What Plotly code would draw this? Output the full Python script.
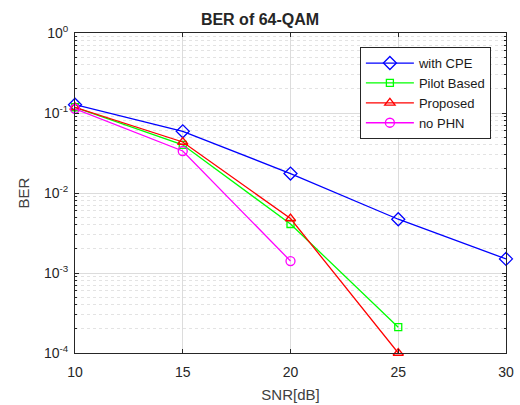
import plotly.graph_objects as go

snr = [10, 15, 20, 25, 30]
ber_cpe = [0.127, 0.059, 0.0175, 0.0047, 0.0015]
snr_pilot = [10, 15, 20, 25]
ber_pilot = [0.118, 0.040, 0.0041, 2.1e-4]
snr_prop = [10, 15, 20, 25]
ber_prop = [0.118, 0.0434, 0.0048, 1.0e-4]
snr_nophn = [10, 15, 20]
ber_nophn = [0.113, 0.0335, 0.00141]

ytick_vals = [1e-4, 1e-3, 1e-2, 1e-1, 1]
ytick_text = ["10<sup>-4</sup>", "10<sup>-3</sup>", "10<sup>-2</sup>", "10<sup>-1</sup>", "10<sup>0</sup>"]
xtick_vals = [10, 15, 20, 25, 30]

fig = go.Figure()
series = [
    ("with CPE", snr, ber_cpe, "#0000ff", "diamond-open", 10),
    ("Pilot Based", snr_pilot, ber_pilot, "#00ff00", "square-open", 7),
    ("Proposed", snr_prop, ber_prop, "#ff0000", "triangle-up-open", 9),
    ("no PHN", snr_nophn, ber_nophn, "#ff00ff", "circle-open", 9),
]
for name, x, y, c, sym, sz in series:
    fig.add_trace(go.Scatter(
        x=x, y=y, name=name, mode="lines+markers",
        line=dict(color=c, width=1.3),
        marker=dict(symbol=sym, size=sz, color=c, line=dict(width=1.3, color=c)),
        cliponaxis=False,
    ))

fig.update_layout(
    width=520, height=405,
    margin=dict(l=75, r=14, t=33, b=52, autoexpand=False),
    paper_bgcolor="white", plot_bgcolor="white",
    font=dict(family="Liberation Sans, Arial, sans-serif", size=14, color="#262626"),
    title=dict(text="<b>BER of 64-QAM</b>", x=0.5, xanchor="center", y=0.952, yanchor="middle",
               font=dict(size=16, color="#262626")),
    showlegend=True,
    legend=dict(x=0.661, y=0.956, xanchor="left", yanchor="top",
                bgcolor="white", bordercolor="#262626", borderwidth=1,
                font=dict(size=13, color="#1a1a1a"), tracegroupgap=0, itemwidth=48),
)
fig.update_xaxes(
    range=[10, 30], tickvals=xtick_vals, automargin=False,
    showgrid=True, gridcolor="#dcdcdc", gridwidth=1,
    showline=True, linecolor="#262626", linewidth=1, mirror="ticks",
    ticks="inside", ticklen=4, tickcolor="#262626", ticklabelstandoff=6,
    zeroline=False, tickfont=dict(size=14),
    title=dict(text="SNR[dB]", font=dict(size=15, color="#404040"), standoff=10),
)
fig.update_yaxes(
    type="log", range=[-4, 0], tickvals=ytick_vals, ticktext=ytick_text, automargin=False,
    showgrid=True, gridcolor="#dcdcdc", gridwidth=1,
    showline=True, linecolor="#262626", linewidth=1, mirror="ticks",
    ticks="inside", ticklen=4, tickcolor="#262626", ticklabelstandoff=3,
    minor=dict(showgrid=True, gridcolor="#e3e3e3", griddash="dot", ticks="inside",
               ticklen=2, tickcolor="#262626", dtick="D1"),
    zeroline=False, tickfont=dict(size=14),
    title=dict(text="BER", font=dict(size=15, color="#404040"), standoff=10),
)
fig.write_html("out.html", config={"displayModeBar": False},
               post_script="document.body.style.margin='0px';")
